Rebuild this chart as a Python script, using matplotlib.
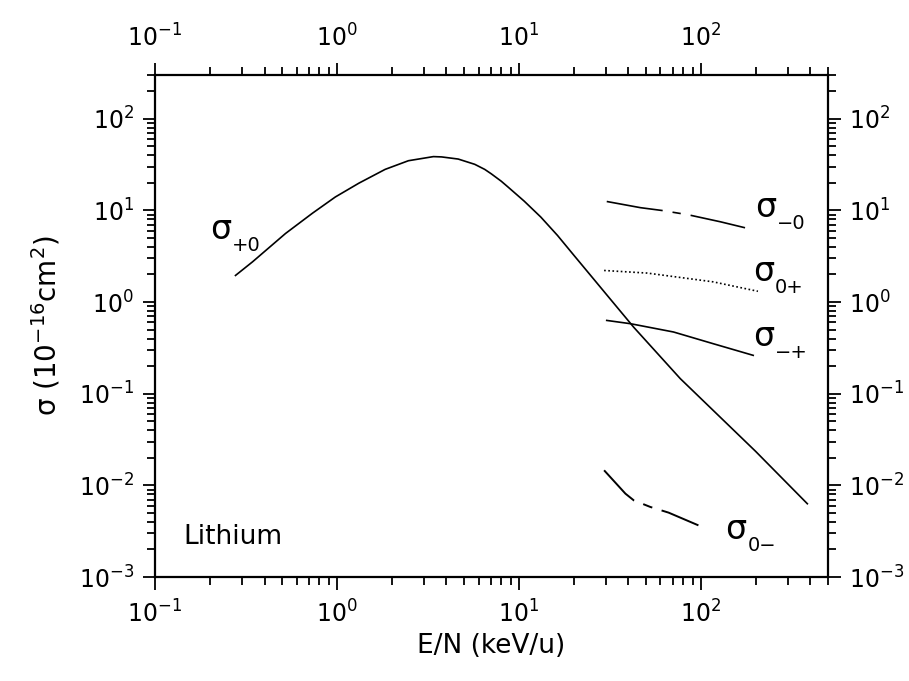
import numpy as np
import matplotlib.pyplot as plt

# values (E/N in keV/u, sigma in 1e-16 cm^2)
e_p0 = [0.277, 0.344, 0.522, 0.733, 0.98, 1.32, 1.84, 2.47, 3.39, 3.76, 4.64, 5.72,
        6.49, 7.06, 8.0, 8.71, 10.7, 13.2, 16.3, 20.1, 24.8, 30.6, 42.8, 77.1, 200, 385]
s_p0 = [1.95, 2.75, 5.6, 9.3, 14.0, 19.8, 28.0, 34.8, 38.6, 38.3, 36.3, 31.8,
        28.0, 25.0, 20.8, 18.0, 12.6, 8.45, 5.33, 3.22, 1.95, 1.18, 0.53, 0.146, 0.0235, 0.0063]

e_m0 = [30.4, 46.6, 61.2, 85.3, 128, 175]
s_m0 = [12.5, 10.7, 9.97, 8.95, 7.51, 6.46]

e_0p = [29.4, 50.7, 117, 206]
s_0p = [2.21, 2.07, 1.66, 1.31]

e_mp = [30.4, 41.1, 70.8, 117, 194]
s_mp = [0.63, 0.58, 0.471, 0.351, 0.262]

e_0m = [29.4, 38.5, 42.8, 52.8, 66.5, 97]
s_0m = [0.0146, 0.00812, 0.00686, 0.00581, 0.00504, 0.00366]

# curve labels: (x, y of sigma baseline, subscript)
lab_x = [0.2, 198, 193, 193, 136]
lab_y = [4.9, 8.5, 1.71, 0.334, 0.00262]
lab_sub = ['+0', '\u22120', '0+', '\u2212+', '0\u2212']

fig = plt.figure(figsize=(9.09, 6.81), dpi=100)
ax = fig.add_axes([0.1705, 0.1527, 0.7404, 0.7372])

ax.plot(e_p0, s_p0, color='k', lw=1.2)
ax.plot(e_m0, s_m0, color='k', lw=1.2, linestyle=(0, (34, 6, 5, 6)))
ax.plot(e_0p, s_0p, color='k', lw=1.2, linestyle=(0, (1, 1.5)))
ax.plot(e_mp, s_mp, color='k', lw=1.2)
ax.plot(e_0m, s_0m, color='k', lw=1.4, linestyle=(0, (22, 5, 5, 5)))

ax.set_xscale('log')
ax.set_yscale('log')
ax.set_xlim(0.1, 500)
ax.set_ylim(1e-3, 300)

for s in ax.spines.values():
    s.set_linewidth(1.6)
ax.tick_params(which='both', direction='out', top=True, right=True,
               labeltop=True, labelright=True, width=1.3, labelsize=17)
ax.tick_params(which='major', length=9, pad=6)
ax.tick_params(which='minor', length=6)
ax.tick_params(axis='x', which='major', pad=8)

ax.set_xlabel('E/N (keV/u)', fontsize=19, labelpad=4)
ax.set_ylabel('\u03c3 (10$^{-16}$cm$^2$)', fontsize=20, labelpad=12)

for x, y, sub in zip(lab_x, lab_y, lab_sub):
    ax.text(x, y, '\u03c3', fontsize=24, ha='left', va='baseline')
    ax.annotate(sub, (x, y), xytext=(16, -9), textcoords='offset points',
                fontsize=14, ha='left', va='baseline')

ax.text(0.042, 0.08, 'Lithium', transform=ax.transAxes, fontsize=19, va='center')

fig.savefig('out.png', dpi=100)
